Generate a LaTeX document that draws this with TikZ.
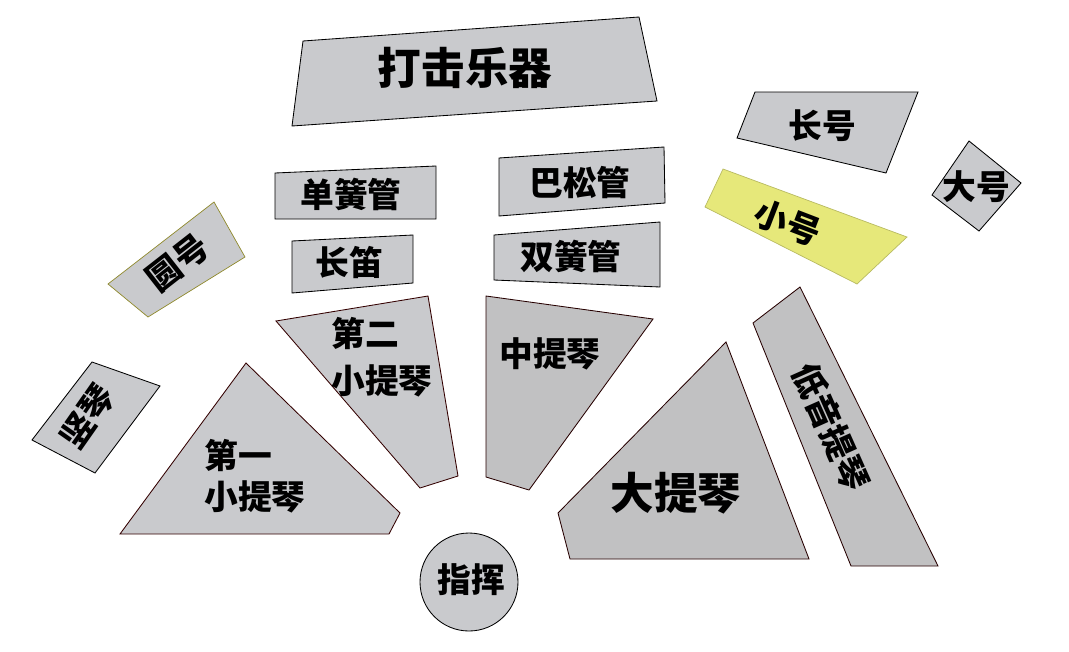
\documentclass[tikz,border=0pt]{standalone}
\usepackage{fontspec}
\newfontfamily\cjk{Noto Sans CJK SC}
\definecolor{seatgray}{RGB}{201,202,205}
\definecolor{stringgray}{RGB}{193,193,194}
\definecolor{trumpetyellow}{RGB}{230,232,122}
\tikzset{
  seat/.style={draw=black, fill=seatgray, line width=0.6pt},
  strings/.style={draw=black!85!red, fill=stringgray, line width=0.6pt},
  lbl/.style={font=\cjk\bfseries\fontsize{24}{29}\selectfont, inner sep=0pt},
  biglbl/.style={font=\cjk\bfseries\fontsize{31}{36}\selectfont, inner sep=0pt}
}

\begin{document}
\begin{tikzpicture}[x=0.025cm, y=-0.025cm]
   \useasboundingbox (0,0) rectangle (1069,651);

   % back row: percussion and brass
   \draw[seat] (303,41) -- (639,17) -- (657,101) -- (292,126) -- cycle;
   \node[biglbl] (perc) at (465,68) {打击乐器};

   \draw[seat] (755,92) -- (918,92) -- (886,173) -- (737,138) -- cycle;
   \node[lbl] (trombone) at (822,126) {长号};

   \draw[seat] (969,141) -- (1021,183) -- (979,231) -- (932,195) -- cycle;
   \node[lbl] (tuba) at (976,187) {大号};

   \draw[draw=trumpetyellow!80!black, fill=trumpetyellow, line width=0.5pt]
        (723,169) -- (907,237) -- (857,284) -- (705,207) -- cycle;
   \node[lbl, rotate=-21] (trumpet) at (788,223) {小号};

   \draw[seat, draw=olive!70!gray, line width=0.5pt]
        (214,202) -- (245,257) -- (148,317) -- (108,284) -- cycle;
   \node[lbl, rotate=38] (horn) at (178,263) {圆号};

   % woodwinds
   \draw[seat] (275,173) -- (436,166) -- (436,219) -- (275,219) -- cycle;
   \node[lbl] (clarinet) at (351,194) {单簧管};

   \draw[seat] (292,241) -- (413,235) -- (413,283) -- (292,293) -- cycle;
   \node[lbl] (flute) at (349,263) {长笛};

   \draw[seat] (499,158) -- (664,147) -- (665,203) -- (499,216) -- cycle;
   \node[lbl] (bassoon) at (580,183) {巴松管};

   \draw[seat] (494,235) -- (660,222) -- (660,287) -- (494,280) -- cycle;
   \node[lbl] (oboe) at (571,256) {双簧管};

   % strings
   \draw[seat] (92,362) -- (160,386) -- (95,473) -- (32,440) -- cycle;
   \node[lbl, rotate=55] (harp) at (88,417) {竖琴};

   \draw[seat, draw=black!80!red] (246,363) -- (400,513) -- (389,534) -- (120,534) -- cycle;
   \node[lbl, align=left, anchor=west] (violinI) at (204,476)
        {第一\\小提琴};

   \draw[seat, draw=black!80!red] (276,321) -- (428,296) -- (458,476) -- (420,488) -- cycle;
   \node[lbl, align=left, anchor=west, font=\cjk\bfseries\fontsize{24}{33}\selectfont]
        (violinII) at (331,357) {第二\\小提琴};

   \draw[strings] (486,296) -- (653,319) -- (529,490) -- (486,477) -- cycle;
   \node[lbl] (viola) at (550,354) {中提琴};

   \draw[strings] (726,342) -- (809,559) -- (570,559) -- (558,513) -- cycle;
   \node[biglbl] (cello) at (676,493) {大提琴};

   \draw[strings] (800,287) -- (938,566) -- (851,566) -- (753,323) -- cycle;
   \node[lbl, rotate=-66] (bass) at (831,427) {低音提琴};

   % podium
   \draw[seat] (469,582) circle (49);
   \node[lbl] (conductor) at (471,580) {指挥};
\end{tikzpicture}
\end{document}
